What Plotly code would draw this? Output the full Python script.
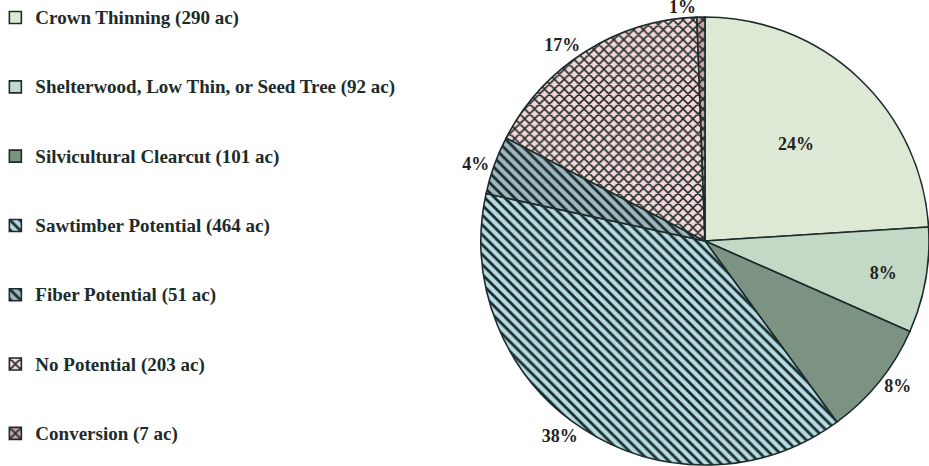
import plotly.graph_objects as go

categories = ["Crown Thinning", "Shelterwood, Low Thin, or Seed Tree", "Silvicultural Clearcut",
              "Sawtimber Potential", "Fiber Potential", "No Potential", "Conversion"]
acres = [290, 92, 101, 464, 51, 203, 7]
fill_colors = ["#DEE9D5", "#C3D9C5", "#7C9384", "#B6DCE3", "#9DB9BF", "#F6D6D6", "#C9A2AA"]
pattern_shapes = ["", "", "", "\\", "\\", "x", "x"]
text_positions = ["inside", "inside", "outside", "outside", "outside", "outside", "outside"]

pad = "<br>\u00a0<br>\u00a0"
legend_labels = []
for i, (c, a) in enumerate(zip(categories, acres)):
    lab = f"<span style='font-size:19px'>{c} ({a} ac)</span>"
    if i < len(categories) - 1:
        lab += pad
    legend_labels.append(lab)

ink = "#1C2B2B"

fig = go.Figure(go.Pie(
    labels=legend_labels,
    values=acres,
    sort=False,
    direction="clockwise",
    rotation=0,
    texttemplate="%{percent:.0%}",
    textposition=text_positions,
    insidetextorientation="horizontal",
    textfont=dict(family="Liberation Serif", size=18, color="#222222", weight="bold"),
    marker=dict(
        colors=fill_colors,
        line=dict(color=ink, width=1.6),
        pattern=dict(shape=pattern_shapes, fgcolor=ink, size=7, solidity=0.4, fillmode="replace",
                     bgcolor=fill_colors),
    ),
    domain=dict(x=[481 / 929, 1], y=[0, 1]),
    hoverinfo="value+percent",
))

fig.update_layout(
    width=929, height=466,
    margin=dict(l=0, r=0, t=16, b=0, autoexpand=False),
    paper_bgcolor="#FFFFFF",
    plot_bgcolor="#FFFFFF",
    showlegend=True,
    legend=dict(
        x=-0.005, y=1.0, xanchor="left", yanchor="top",
        xref="paper", yref="container",
        font=dict(family="Liberation Serif", size=17, color=ink, weight="bold"),
        valign="top",
        traceorder="normal",
        bgcolor="rgba(0,0,0,0)",
        maxheight=466,
    ),
)

fig.write_html("out.html")
